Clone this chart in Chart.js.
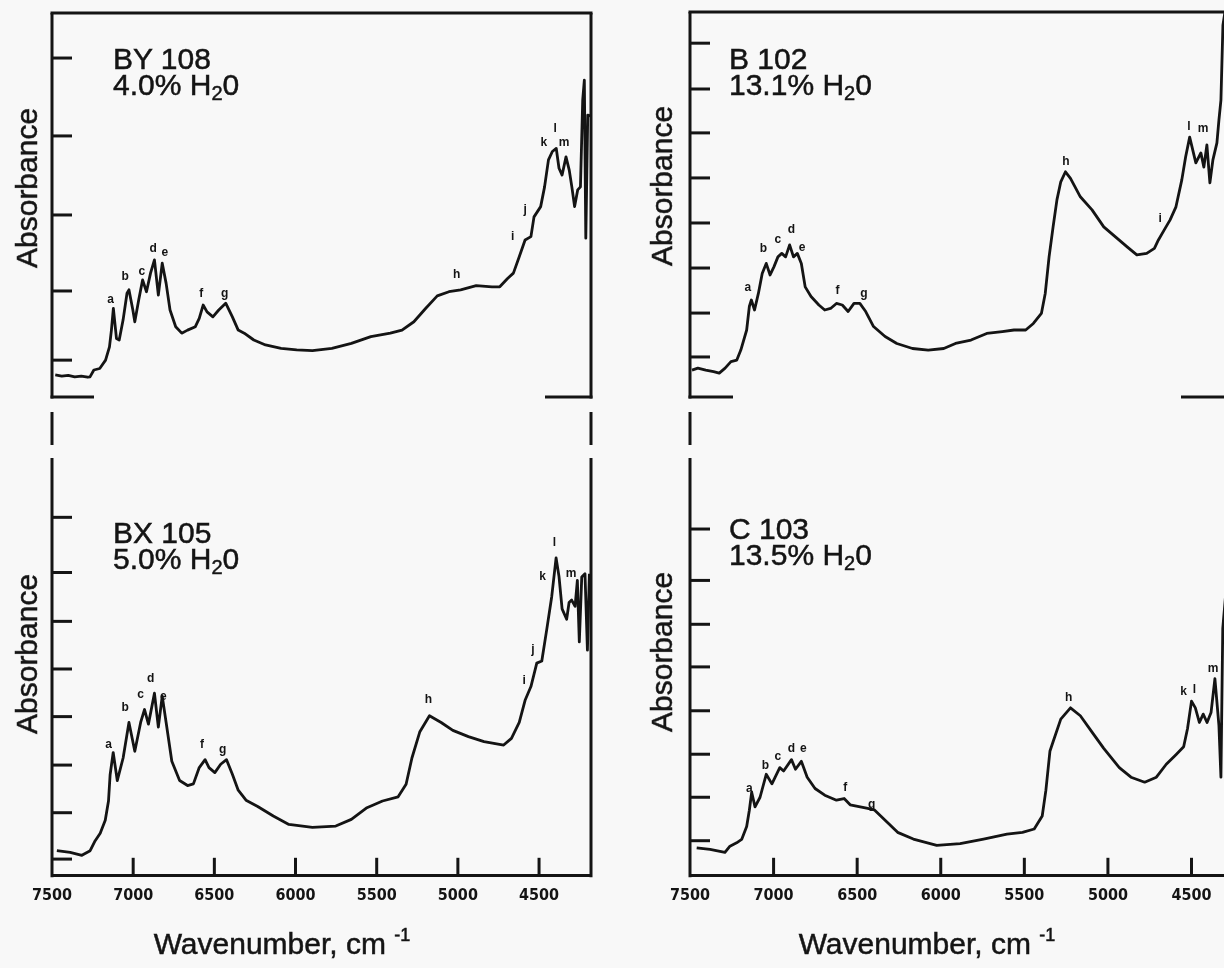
<!DOCTYPE html>
<html>
<head>
<meta charset="utf-8">
<script src="https://cdn.jsdelivr.net/npm/chart.js@4.4.1/dist/chart.umd.min.js"></script>
<style>
  html, body { margin: 0; padding: 0; background: #f8f8f8; }
  #page { position: relative; width: 1224px; height: 968px; overflow: hidden;
          font-family: "Liberation Sans", Arial, Helvetica, sans-serif; color: #141414; }
  .panel { position: absolute; }
  .ylab, .sample, .xlab { -webkit-text-stroke: 0.5px #141414; }
  .ylab { position: absolute; font-size: 30px; white-space: nowrap;
          transform: translate(-50%, -50%) rotate(-90deg); }
  .sample { position: absolute; font-size: 30px; line-height: 26px; white-space: nowrap; }
  .sample sub { font-size: 20px; vertical-align: -5px; line-height: 0; }
  .xlab { position: absolute; font-size: 30px; line-height: 34px; white-space: nowrap;
          transform: translateX(-50%); }
  .xlab sup { font-size: 18px; vertical-align: 13px; line-height: 0; }
</style>
</head>
<body>
<div id="page">
  <div class="panel" style="left:0;top:0"><canvas id="by108" width="620" height="410"></canvas></div>
  <div class="panel" style="left:620px;top:0"><canvas id="b102" width="680" height="410"></canvas></div>
  <div class="panel" style="left:0;top:400px"><canvas id="bx105" width="620" height="568"></canvas></div>
  <div class="panel" style="left:620px;top:400px"><canvas id="c103" width="680" height="568"></canvas></div>

  <div class="ylab" style="left:27px;top:188px">Absorbance</div>
  <div class="ylab" style="left:662px;top:186px">Absorbance</div>
  <div class="ylab" style="left:27px;top:654px">Absorbance</div>
  <div class="ylab" style="left:662px;top:652px">Absorbance</div>

  <div class="sample" style="left:113px;top:46px">BY 108<br>4.0% H<sub>2</sub>0</div>
  <div class="sample" style="left:729px;top:46px">B 102<br>13.1% H<sub>2</sub>0</div>
  <div class="sample" style="left:113px;top:520px">BX 105<br>5.0% H<sub>2</sub>0</div>
  <div class="sample" style="left:729px;top:516px">C 103<br>13.5% H<sub>2</sub>0</div>

  <div class="xlab" style="left:282px;top:927px">Wavenumber, cm <sup>-1</sup></div>
  <div class="xlab" style="left:927px;top:927px">Wavenumber, cm <sup>-1</sup></div>
</div>

<script>
// wavenumber axis (reversed, high to low)
const wnMin = 4180;
const wnMax = 7500;
const xTickLabels = [7500, 7000, 6500, 6000, 5500, 5000, 4500];
const xTickMarks = [7000, 6500, 6000, 5500, 5000, 4500];

// BY 108, 4.0% H2O
const wnBY108 = [7480, 7440, 7400, 7360, 7320, 7280, 7266, 7242, 7206, 7170, 7146, 7134, 7122,
  7103, 7086, 7062, 7038, 7026, 7002, 6990, 6966, 6942, 6918, 6893, 6869, 6845, 6821,
  6797, 6773, 6738, 6701, 6665, 6617, 6593, 6569, 6545, 6509, 6473, 6430, 6389, 6353,
  6316, 6257, 6185, 6089, 5993, 5896, 5776, 5656, 5536, 5416, 5344, 5271, 5199, 5127,
  5055, 4983, 4887, 4790, 4742, 4694, 4658, 4622, 4586, 4550, 4531, 4490, 4466, 4442,
  4418, 4394, 4377, 4358, 4334, 4314, 4298, 4281, 4262, 4245, 4231, 4221, 4212, 4200, 4185];
const absBY108 = [0.058, 0.055, 0.057, 0.053, 0.055, 0.052, 0.053, 0.071, 0.075, 0.097, 0.132, 0.176, 0.233,
  0.154, 0.150, 0.203, 0.273, 0.282, 0.229, 0.198, 0.255, 0.308, 0.277, 0.326, 0.361, 0.268, 0.352,
  0.299, 0.229, 0.185, 0.168, 0.176, 0.185, 0.207, 0.242, 0.224, 0.211, 0.229, 0.247, 0.211, 0.176,
  0.168, 0.150, 0.137, 0.128, 0.124, 0.122, 0.128, 0.141, 0.159, 0.168, 0.176, 0.198, 0.233, 0.266,
  0.277, 0.282, 0.293, 0.290, 0.290, 0.312, 0.326, 0.369, 0.413, 0.422, 0.474, 0.501, 0.553, 0.624,
  0.646, 0.654, 0.602, 0.584, 0.632, 0.597, 0.553, 0.501, 0.545, 0.553, 0.782, 0.834, 0.418, 0.742, 0.740];
const yTicksBY108 = [0.097, 0.279, 0.479, 0.687, 0.892];
const peaksBY108 = ['a', 'b', 'c', 'd', 'e', 'f', 'g', 'h', 'i', 'j', 'k', 'l', 'm'];
const peakWnBY108 = [7139, 7050, 6946, 6877, 6805, 6581, 6437, 5007, 4663, 4586, 4471, 4401, 4346];
const peakAbsBY108 = [0.255, 0.317, 0.330, 0.391, 0.380, 0.273, 0.273, 0.321, 0.422, 0.492, 0.668, 0.707, 0.668];

// B 102, 13.1% H2O
const wnB102 = [7488, 7453, 7406, 7359, 7325, 7290, 7255, 7220, 7196, 7161, 7145, 7133, 7114, 7091, 7068,
  7044, 7021, 6998, 6974, 6951, 6928, 6904, 6881, 6858, 6834, 6811, 6776, 6729, 6694,
  6659, 6624, 6589, 6554, 6519, 6484, 6449, 6402, 6333, 6263, 6169, 6075, 5982, 5912,
  5819, 5725, 5632, 5562, 5492, 5446, 5398, 5375, 5352, 5328, 5305, 5282, 5254, 5224,
  5165, 5095, 5025, 4955, 4885, 4827, 4768, 4722, 4698, 4663, 4628, 4593, 4558, 4535,
  4511, 4474, 4444, 4426, 4408, 4390, 4372, 4348, 4336, 4324, 4312, 4300];
const absB102 = [0.070, 0.075, 0.070, 0.066, 0.062, 0.075, 0.092, 0.096, 0.122, 0.174, 0.235, 0.252, 0.226, 0.269, 0.321,
  0.347, 0.317, 0.338, 0.364, 0.373, 0.364, 0.395, 0.364, 0.373, 0.347, 0.286, 0.261, 0.239, 0.226,
  0.230, 0.243, 0.239, 0.222, 0.243, 0.243, 0.222, 0.183, 0.157, 0.139, 0.126, 0.122, 0.126, 0.139,
  0.148, 0.165, 0.170, 0.174, 0.174, 0.191, 0.217, 0.269, 0.364, 0.442, 0.512, 0.559, 0.585, 0.568,
  0.520, 0.486, 0.442, 0.416, 0.390, 0.369, 0.373, 0.386, 0.408, 0.434, 0.460, 0.494, 0.564, 0.624,
  0.675, 0.608, 0.634, 0.597, 0.655, 0.556, 0.616, 0.660, 0.719, 0.771, 0.966, 1.0];
const yTicksB102 = [0.104, 0.218, 0.335, 0.452, 0.569, 0.686, 0.800, 0.919];
const peaksB102 = ['a', 'b', 'c', 'd', 'e', 'f', 'g', 'h', 'i', 'l', 'm'];
const peakWnB102 = [7154, 7061, 6974, 6893, 6830, 6617, 6460, 5252, 4687, 4516, 4430];
const peakAbsB102 = [0.285, 0.384, 0.408, 0.434, 0.389, 0.276, 0.268, 0.611, 0.464, 0.702, 0.698];

// BX 105, 5.0% H2O
const wnBX105 = [7470, 7388, 7316, 7265, 7234, 7203, 7172, 7152, 7142, 7123,
  7098, 7062, 7026, 6990, 6954, 6930, 6906, 6869, 6845, 6821, 6797, 6762, 6714, 6665,
  6629, 6593, 6557, 6533, 6497, 6461, 6425, 6389, 6353, 6305, 6233, 6137, 6041, 5896,
  5752, 5656, 5560, 5464, 5368, 5319, 5283, 5235, 5175, 5103, 5031, 4935, 4839, 4718,
  4670, 4622, 4586, 4550, 4514, 4483, 4452, 4422, 4395, 4377, 4358, 4330, 4315, 4299,
  4278, 4264, 4252, 4237, 4217, 4202, 4190];
const absBX105 = [0.060, 0.056, 0.049, 0.060, 0.084, 0.102, 0.133, 0.179, 0.242, 0.295,
  0.228, 0.282, 0.367, 0.298, 0.367, 0.398, 0.363, 0.437, 0.356, 0.430, 0.367, 0.274, 0.228, 0.216,
  0.220, 0.259, 0.278, 0.259, 0.247, 0.267, 0.278, 0.243, 0.205, 0.181, 0.166, 0.143, 0.123, 0.116,
  0.119, 0.135, 0.163, 0.179, 0.189, 0.219, 0.282, 0.344, 0.383, 0.367, 0.348, 0.333, 0.321, 0.313,
  0.329, 0.367, 0.420, 0.453, 0.509, 0.514, 0.591, 0.668, 0.761, 0.716, 0.639, 0.614, 0.654, 0.660,
  0.645, 0.707, 0.560, 0.715, 0.723, 0.540, 0.723];
const yTicksBX105 = [0.040, 0.151, 0.265, 0.381, 0.495, 0.609, 0.726, 0.858];
const peaksBX105 = ['a', 'b', 'c', 'd', 'e', 'f', 'g', 'h', 'i', 'j', 'k', 'l', 'm'];
const peakWnBX105 = [7151, 7050, 6954, 6893, 6814, 6576, 6449, 5182, 4591, 4538, 4478, 4406, 4303];
const peakAbsBX105 = [0.313, 0.402, 0.433, 0.472, 0.428, 0.313, 0.302, 0.422, 0.468, 0.542, 0.716, 0.798, 0.724];

// C 103, 13.5% H2O
const wnC103 = [7460, 7380, 7291, 7261, 7221, 7191, 7161, 7145, 7131, 7111,
  7081, 7044, 7010, 6963, 6940, 6893, 6869, 6834, 6799, 6752, 6694, 6624, 6578, 6542,
  6444, 6398, 6328, 6258, 6164, 6024, 5884, 5744, 5604, 5511, 5441, 5393, 5371, 5347,
  5328, 5282, 5224, 5165, 5095, 5025, 4932, 4862, 4780, 4710, 4651, 4593, 4547, 4524,
  4500, 4477, 4453, 4430, 4407, 4383, 4360, 4336, 4324, 4313, 4290, 4250, 4200];
const absC103 = [0.067, 0.063, 0.056, 0.071, 0.079, 0.087, 0.118, 0.157, 0.200, 0.165,
  0.188, 0.243, 0.220, 0.259, 0.251, 0.278, 0.255, 0.274, 0.236, 0.209, 0.193, 0.181, 0.185, 0.170,
  0.162, 0.158, 0.131, 0.104, 0.088, 0.073, 0.077, 0.088, 0.100, 0.104, 0.112, 0.143, 0.205, 0.298,
  0.321, 0.375, 0.402, 0.383, 0.344, 0.305, 0.259, 0.236, 0.224, 0.236, 0.267, 0.290, 0.309, 0.352,
  0.418, 0.402, 0.367, 0.387, 0.367, 0.391, 0.472, 0.360, 0.236, 0.592, 0.700, 0.620, 0.650];
const yTicksC103 = [0.084, 0.188, 0.291, 0.395, 0.500, 0.602, 0.707, 0.830];
const peaksC103 = ['a', 'b', 'c', 'd', 'e', 'f', 'g', 'h', 'k', 'l', 'm'];
const peakWnC103 = [7145, 7049, 6974, 6893, 6822, 6571, 6414, 5235, 4547, 4483, 4371];
const peakAbsC103 = [0.209, 0.263, 0.286, 0.305, 0.304, 0.212, 0.170, 0.426, 0.441, 0.445, 0.495];

const ink = '#141414';

// draws the box, inward ticks and the peak letters
function framePlugin(cfg) {
  return {
    id: 'panelFrame',
    afterDraw(chart) {
      const { ctx, chartArea: { left, right, top, bottom }, scales: { x, y } } = chart;
      const seg = (x1, y1, x2, y2) => {
        ctx.beginPath();
        ctx.moveTo(x1, y1);
        ctx.lineTo(x2, y2);
        ctx.stroke();
      };
      ctx.save();
      ctx.strokeStyle = ink;
      ctx.lineWidth = 3;
      seg(left, top, left, bottom + 1.5);
      seg(right, top, right, bottom + 1.5);
      if (cfg.closedTop) {
        seg(left - 1.5, top, right + 1.5, top);
      }
      if (cfg.stubs) {
        seg(left - 1.5, bottom, left + cfg.stubs[0], bottom);
        seg(right - cfg.stubs[1], bottom, right + 1.5, bottom);
      }
      if (cfg.breakAbove) {
        [left, right].forEach(px => seg(px, top - 46, px, top - 13));
      }
      cfg.yTicks.forEach(v => {
        const py = y.getPixelForValue(v);
        seg(left, py, left + 20, py);
      });
      (cfg.xTicks || []).forEach(v => {
        const px = x.getPixelForValue(v);
        seg(px, bottom, px, bottom - 18);
      });
      ctx.fillStyle = ink;
      ctx.font = 'bold 12px "Liberation Sans", Arial, sans-serif';
      ctx.textAlign = 'center';
      ctx.textBaseline = 'middle';
      cfg.peaks.forEach((p, i) => {
        ctx.fillText(p, x.getPixelForValue(cfg.peakWn[i]), y.getPixelForValue(cfg.peakAbs[i]));
      });
      ctx.restore();
    }
  };
}

function makePanel(id, wn, abs, yMax, padding, bottomAxis, frame) {
  new Chart(document.getElementById(id), {
    type: 'line',
    data: {
      datasets: [{
        data: wn.map((w, i) => ({ x: w, y: abs[i] })),
        borderColor: ink,
        borderWidth: 2.8,
        borderJoinStyle: 'round',
        pointRadius: 0,
        tension: 0
      }]
    },
    options: {
      responsive: false,
      animation: false,
      layout: { padding: padding },
      plugins: { legend: { display: false }, tooltip: { enabled: false } },
      scales: {
        x: {
          type: 'linear',
          reverse: true,
          min: wnMin,
          max: wnMax,
          display: bottomAxis,
          grid: { display: false, drawTicks: false },
          border: { display: true, color: ink, width: 3 },
          afterBuildTicks: s => { s.ticks = xTickLabels.map(v => ({ value: v })); },
          ticks: {
            autoSkip: false,
            maxRotation: 0,
            padding: 10,
            color: ink,
            font: { family: '"Liberation Sans Narrow", "DejaVu Sans Condensed", Arial, sans-serif', size: 16, weight: 'bold' },
            callback: v => String(v)
          }
        },
        y: { min: 0, max: yMax, display: false }
      }
    },
    plugins: [framePlugin(frame)]
  });
}

makePanel('by108', wnBY108, absBY108, 1.0105, { left: 52, right: 29, top: 13, bottom: 13 }, false,
  { closedTop: true, stubs: [42, 46], yTicks: yTicksBY108, peaks: peaksBY108, peakWn: peakWnBY108, peakAbs: peakAbsBY108 });
makePanel('b102', wnB102, absB102, 1.0, { left: 70, right: 55, top: 12, bottom: 13 }, false,
  { closedTop: true, stubs: [43, 64], yTicks: yTicksB102, peaks: peaksB102, peakWn: peakWnB102, peakAbs: peakAbsB102 });
makePanel('bx105', wnBX105, absBX105, 1.0, { left: 52, right: 29, top: 58, bottom: 53 }, true,
  { breakAbove: true, yTicks: yTicksBX105, xTicks: xTickMarks, peaks: peaksBX105, peakWn: peakWnBX105, peakAbs: peakAbsBX105 });
makePanel('c103', wnC103, absC103, 1.0, { left: 70, right: 55, top: 58, bottom: 53 }, true,
  { breakAbove: true, yTicks: yTicksC103, xTicks: xTickMarks, peaks: peaksC103, peakWn: peakWnC103, peakAbs: peakAbsC103 });
</script>
</body>
</html>
